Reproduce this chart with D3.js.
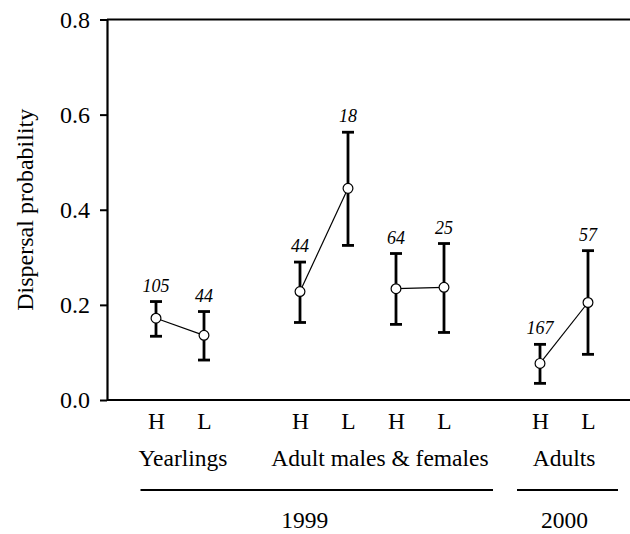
<!DOCTYPE html>
<html>
<head>
<meta charset="utf-8">
<script src="https://cdn.jsdelivr.net/npm/d3@7"></script>
<style>
  html, body { margin: 0; padding: 0; background: #fff; }
  svg { display: block; font-family: "Liberation Serif", "Times New Roman", serif; }
</style>
</head>
<body>
<svg id="chart" width="630" height="534"></svg>
<script>
// Dispersal probability (estimate with confidence interval) by habitat treatment
const categories  = ["Y-H", "Y-L", "M-H", "M-L", "F-H", "F-L", "A-H", "A-L"];
const treatments  = ["H", "L", "H", "L", "H", "L", "H", "L"];
const pairIndex   = [0, 0, 1, 1, 2, 2, 3, 3];
const groupIndex  = [0, 0, 1, 1, 1, 1, 2, 2];
const groupLabels = ["Yearlings", "Adult males & females", "Adults"];
const yearLabels  = ["1999", "2000"];
const yearOfGroup = [0, 0, 1];
const estimates   = [0.172, 0.136, 0.228, 0.445, 0.234, 0.237, 0.077, 0.205];
const lowerCI     = [0.134, 0.084, 0.163, 0.325, 0.159, 0.142, 0.035, 0.096];
const upperCI     = [0.207, 0.186, 0.290, 0.563, 0.308, 0.329, 0.117, 0.314];
const sampleSizes = [105, 44, 44, 18, 64, 25, 167, 57];
const yTicks      = [0.0, 0.2, 0.4, 0.6, 0.8];

const W = 630, H = 534;
const axisX = 107, plotTop = 19.5, plotBottom = 400;
const svg = d3.select("#chart");

const data = categories.map((c, i) => ({
  id: c, trt: treatments[i], pair: pairIndex[i], group: groupIndex[i],
  est: estimates[i], lo: lowerCI[i], hi: upperCI[i], n: sampleSizes[i]
}));

// x slots: one per category, with an empty slot between groups
const slots = [];
data.forEach((d, i) => {
  if (i > 0 && d.group !== data[i - 1].group) slots.push("gap" + d.group);
  slots.push(d.id);
});
const x = d3.scalePoint().domain(slots).range([axisX + 1, 636]).padding(1);
const y = d3.scaleLinear().domain([0, 0.8]).range([plotBottom, plotTop]);

// frame: top rule and bottom rule
svg.append("line").attr("x1", axisX).attr("x2", W).attr("y1", plotTop).attr("y2", plotTop)
  .attr("stroke", "#000").attr("stroke-width", 2.2);
svg.append("line").attr("x1", axisX).attr("x2", W).attr("y1", plotBottom).attr("y2", plotBottom)
  .attr("stroke", "#000").attr("stroke-width", 2.2);

// y axis
const yAxis = d3.axisLeft(y).tickValues(yTicks).tickFormat(d3.format(".1f"))
  .tickSize(7).tickSizeOuter(0).tickPadding(10);
const gy = svg.append("g").attr("transform", `translate(${axisX},0)`).call(yAxis);
gy.select(".domain").attr("stroke-width", 2.2);
gy.selectAll(".tick line").attr("stroke-width", 2);
gy.selectAll(".tick text").attr("font-family", "Liberation Serif, serif")
  .attr("font-size", 24).attr("fill", "#000");

svg.append("text")
  .attr("transform", `translate(33,${(plotTop + plotBottom) / 2}) rotate(-90)`)
  .attr("text-anchor", "middle").attr("font-size", 24).attr("fill", "#000")
  .text("Dispersal probability");

// x tick labels (H / L)
const xAxis = d3.axisBottom(x).tickValues(categories)
  .tickFormat((d) => treatments[categories.indexOf(d)]).tickSize(0).tickPadding(12);
const gx = svg.append("g").attr("transform", `translate(0,${plotBottom})`).call(xAxis);
gx.select(".domain").remove();
gx.selectAll(".tick text").attr("font-family", "Liberation Serif, serif")
  .attr("font-size", 23.5).attr("fill", "#000").attr("dy", null).attr("y", 29);

// group labels
const groupNudge = [3, 8, 0];
groupLabels.forEach((g, gi) => {
  const xs = data.filter((d) => d.group === gi).map((d) => x(d.id));
  svg.append("text")
    .attr("x", (d3.min(xs) + d3.max(xs)) / 2 + groupNudge[gi]).attr("y", 465.5)
    .attr("text-anchor", "middle").attr("font-size", 23.5).attr("fill", "#000")
    .text(g);
});

// year rules and labels
const yearRule = [[-15.5, 49], [-23, 30]];
const yearNudge = [-12, -3];
yearLabels.forEach((yr, yi) => {
  const xs = data.filter((d) => yearOfGroup[d.group] === yi).map((d) => x(d.id));
  const x1 = d3.min(xs) + yearRule[yi][0], x2 = d3.max(xs) + yearRule[yi][1];
  svg.append("line").attr("x1", x1).attr("x2", x2).attr("y1", 490).attr("y2", 490)
    .attr("stroke", "#000").attr("stroke-width", 1.8);
  svg.append("text").attr("x", (x1 + x2) / 2 + yearNudge[yi]).attr("y", 527.5)
    .attr("text-anchor", "middle").attr("font-size", 23.5).attr("fill", "#000")
    .text(yr);
});

// error bars
const bars = svg.append("g").attr("stroke", "#000").attr("stroke-width", 2.8);
data.forEach((d) => {
  const cx = x(d.id);
  bars.append("line").attr("x1", cx).attr("x2", cx).attr("y1", y(d.lo)).attr("y2", y(d.hi));
  bars.append("line").attr("x1", cx - 6).attr("x2", cx + 6).attr("y1", y(d.lo)).attr("y2", y(d.lo));
  bars.append("line").attr("x1", cx - 6).attr("x2", cx + 6).attr("y1", y(d.hi)).attr("y2", y(d.hi));
});

// connecting lines between H and L of each pair
const line = d3.line().x((d) => x(d.id)).y((d) => y(d.est));
d3.groups(data, (d) => d.pair).forEach(([, pts]) => {
  svg.append("path").attr("d", line(pts)).attr("fill", "none")
    .attr("stroke", "#000").attr("stroke-width", 1.2);
});

// estimates
svg.append("g").selectAll("circle").data(data).join("circle")
  .attr("cx", (d) => x(d.id)).attr("cy", (d) => y(d.est)).attr("r", 4.9)
  .attr("fill", "#fff").attr("stroke", "#000").attr("stroke-width", 1.2);

// sample sizes
svg.append("g").selectAll("text").data(data).join("text")
  .attr("x", (d) => x(d.id)).attr("y", (d) => y(d.hi) - 10)
  .attr("text-anchor", "middle").attr("font-size", 18).attr("font-style", "italic")
  .attr("fill", "#000").text((d) => d.n);
</script>
</body>
</html>
